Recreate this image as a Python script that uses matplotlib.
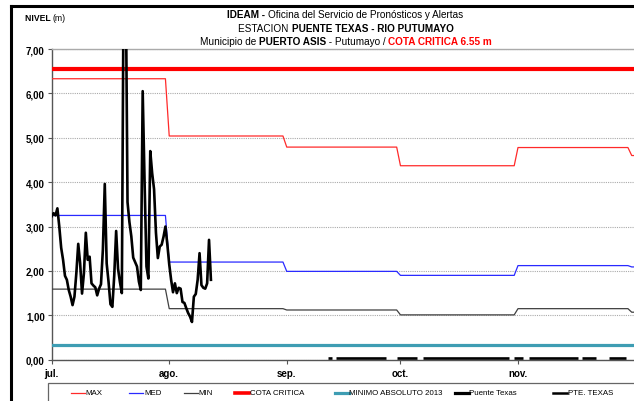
import datetime as dt
import matplotlib
matplotlib.use("Agg")
import matplotlib.pyplot as plt
from matplotlib.lines import Line2D
from matplotlib.patches import Rectangle
from matplotlib.transforms import ScaledTranslation
import pandas as pd

W, H = 634, 402
NARROW = ['Liberation Sans Narrow', 'Liberation Sans', 'DejaVu Sans']
ARIAL = ['Liberation Sans', 'DejaVu Sans']

# ---- data ----
INICIO = dt.datetime(2013, 7, 1)
MESES = ['jul.', 'ago.', 'sep.', 'oct.', 'nov.']
# monthly reference levels jul..dic
NIVEL_MAX = [6.33, 5.04, 4.79, 4.37, 4.78, 4.60]
NIVEL_MED = [3.25, 2.20, 1.99, 1.90, 2.12, 2.09]
NIVEL_MIN = [1.59, 1.15, 1.12, 1.01, 1.15, 1.07]
COTA_CRITICA = 6.55
MINIMO_ABSOLUTO = 0.34

# Puente Texas, two readings per day from 1 jul.
PUENTE_TEXAS = [
    3.23, 3.30, 3.25, 3.41, 3.00, 2.52, 2.25, 1.89, 1.80, 1.57,
    1.42, 1.23, 1.42, 1.95, 2.61, 2.17, 1.49, 1.95, 2.86, 2.25,
    2.32, 1.72, 1.67, 1.63, 1.45, 1.60, 1.70, 2.48, 3.96, 2.17,
    1.75, 1.25, 1.19, 1.90, 2.90, 2.05, 1.75, 1.50, 9.00, 9.00,
    3.55, 3.10, 2.78, 2.30, 2.20, 2.10, 1.76, 1.57, 6.05, 4.00,
    2.10, 1.83, 4.70, 4.20, 3.84, 2.86, 2.29, 2.55, 2.59, 2.77,
    3.00, 2.60, 2.15, 1.80, 1.52, 1.72, 1.50, 1.62, 1.60, 1.30,
    1.28, 1.16, 1.05, 0.97, 0.85, 1.42, 1.48, 1.80, 2.40, 1.68,
    1.62, 1.60, 1.72, 2.70, 1.80,
]
# PTE. TEXAS: stretches (days after 1 jul.) drawn at ~0
PTE_TEXAS_TRAMOS = [(73, 74), (75, 88.3), (91, 96.4), (98, 120.6),
                    (122, 124.3), (126, 138.7), (140, 143.5), (147, 151.6)]
PTE_TEXAS_NIVEL = 0.04


def mensual(valores):
    xs, ys = [], []
    for i, v in enumerate(valores):
        ini = pd.Timestamp(INICIO) + pd.DateOffset(months=i)
        fin = ini + pd.DateOffset(months=1) - pd.Timedelta(days=1)
        xs += [ini, fin]
        ys += [v, v]
    return xs, ys


def fx(x):
    return x / W


def fy(y):
    return 1 - y / H


fig = plt.figure(figsize=(W / 100, H / 100), dpi=100)
ax = fig.add_axes([fx(51.7), fy(360.7), 1 - fx(51.7), (360.7 - 50) / H])

t_pt = pd.date_range(INICIO, periods=len(PUENTE_TEXAS), freq='12h')

ax.axhline(COTA_CRITICA, color='#ff0000', lw=3.0, zorder=3)
ax.axhline(MINIMO_ABSOLUTO, color='#3e9db3', lw=2.3, zorder=3)
for vals, col in [(NIVEL_MAX, '#ff2a2a'), (NIVEL_MED, '#2a2aff'), (NIVEL_MIN, '#404040')]:
    xs, ys = mensual(vals)
    ax.plot(xs, ys, color=col, lw=0.9, zorder=4)
ax.plot(t_pt, PUENTE_TEXAS, color='black', lw=1.9, zorder=5)
for a, b in PTE_TEXAS_TRAMOS:
    ax.plot([INICIO + dt.timedelta(days=a), INICIO + dt.timedelta(days=b)],
            [PTE_TEXAS_NIVEL, PTE_TEXAS_NIVEL], color='black', lw=1.9,
            zorder=5, clip_on=False, solid_capstyle='butt')

ax.set_ylim(0, 7)
ax.set_xlim(INICIO, INICIO + dt.timedelta(days=153.6))
ax.set_yticks(range(8))
ax.set_yticklabels(['%d,00' % v for v in range(8)])
mticks = [pd.Timestamp(INICIO) + pd.DateOffset(months=i) for i in range(len(MESES))]
ax.set_xticks(mticks)
ax.set_xticklabels(MESES)
for lab in ax.get_xticklabels() + ax.get_yticklabels():
    lab.set_family(ARIAL)
    lab.set_fontweight('bold')
    lab.set_fontsize(7)
shift = ScaledTranslation(3 / 100, 0, fig.dpi_scale_trans)
for lab in ax.get_xticklabels():
    lab.set_transform(lab.get_transform() + shift)
ax.tick_params(axis='both', direction='out', length=3, width=0.8, color='#555555', pad=2)
ax.tick_params(axis='x', pad=3)
ax.yaxis.grid(True, color='#aaaaaa', ls=(0, (1, 1)), lw=0.8)
ax.set_axisbelow(True)
ax.spines['right'].set_visible(False)
ax.spines['top'].set_color('#aaaaaa')
ax.spines['top'].set_linewidth(1.0)
for s in ['left', 'bottom']:
    ax.spines[s].set_color('#555555')
    ax.spines[s].set_linewidth(1.0)

# frame of the sheet
fig.add_artist(Line2D([fx(11), 1], [fy(6.5), fy(6.5)], color='black', lw=2.2))
fig.add_artist(Line2D([fx(11), fx(11)], [fy(6.5), 0], color='black', lw=2.2))

renderer = fig.canvas.get_renderer()


def rich(xpos, yc, parts, size, family=NARROW, align='center'):
    objs = []
    for s, weight, color in parts:
        t = fig.text(0, fy(yc), s, fontsize=size, fontweight=weight, color=color,
                     family=family, va='center', ha='left')
        objs.append((t, t.get_window_extent(renderer).width))
    total = sum(w for _, w in objs)
    x0 = xpos - total / 2 if align == 'center' else xpos
    for t, w in objs:
        t.set_x(fx(x0))
        x0 += w


rich(345, 15.5, [('IDEAM - ', 'bold', 'black'),
                 ('Oficina del Servicio de Pronósticos y Alertas', 'normal', 'black')], 7.2)
rich(346, 28.5, [('ESTACION ', 'normal', 'black'),
                 ('PUENTE TEXAS - RIO PUTUMAYO', 'bold', 'black')], 7.2)
rich(346, 42, [('Municipio de ', 'normal', 'black'),
               ('PUERTO ASIS', 'bold', 'black'),
               (' - Putumayo / ', 'normal', 'black'),
               ('COTA CRITICA 6.55 m', 'bold', '#ff0000')], 7.2)
rich(25, 18.5, [('NIVEL ', 'bold', 'black'), ('(m)', 'normal', 'black')], 6.2,
     align='left')

# legend
fig.add_artist(Rectangle((fx(47.7), fy(420)), 1.0, fy(383.5) - fy(420),
                         fill=False, edgecolor='#666666', lw=0.9))
LEYENDA = [
    ('MAX', '#ff2a2a', 0.9, 70.8),
    ('MED', '#2a2aff', 0.9, 129.4),
    ('MIN', '#404040', 0.9, 184.0),
    ('COTA CRITICA', '#ff0000', 2.6, 235.0),
    ('MINIMO ABSOLUTO 2013', '#3e9db3', 2.3, 334.8),
    ('Puente Texas', 'black', 2.3, 455.0),
    ('PTE. TEXAS', 'black', 1.8, 553.0),
]
for txt, col, lw, x0 in LEYENDA:
    fig.add_artist(Line2D([fx(x0), fx(x0 + 14)], [fy(393.5), fy(393.5)], color=col, lw=lw))
    fig.text(fx(x0 + 14.5), fy(393.5), txt, fontsize=5.7, family=NARROW,
             va='center', ha='left')

fig.savefig('out.png', dpi=100)
